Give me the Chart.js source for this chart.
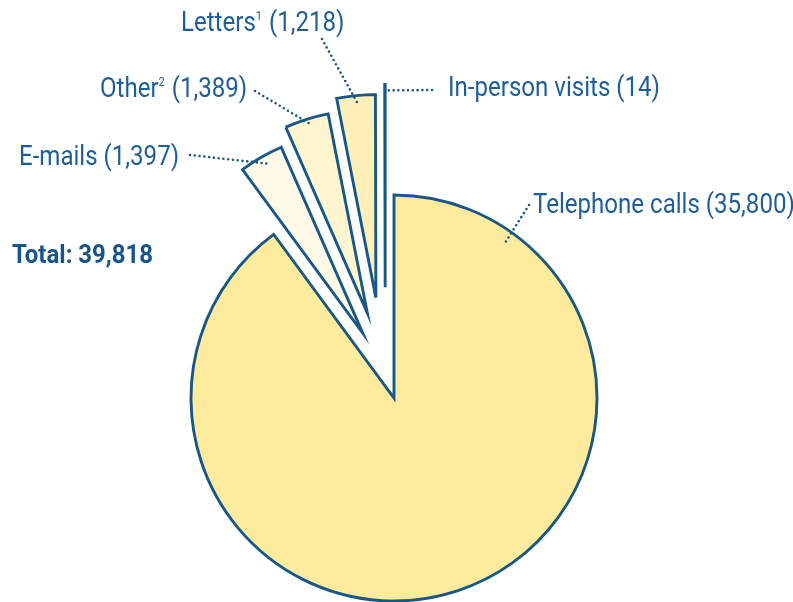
<!DOCTYPE html>
<html>
<head>
<meta charset="utf-8">
<script src="https://cdn.jsdelivr.net/npm/chart.js@4.4.0/dist/chart.umd.min.js"></script>
<style>
  html, body { margin: 0; padding: 0; background: #fff; }
  #wrap { width: 793px; height: 602px; }
</style>
</head>
<body>
<div id="wrap"><canvas id="contactsChart" width="793" height="602"></canvas></div>
<script>
// --- Datos ---
const categories = ['Telephone calls', 'E-mails', 'Other', 'Letters', 'In-person visits'];
const footnotes = ['', '', '2', '1', ''];
const contacts = [35800, 1397, 1389, 1218, 14];

// --- Estilo ---
const sliceColors = ['#feeb9d', '#fffae7', '#fff5cf', '#fef0b8', '#feeb9d'];
const edgeColor = '#195886';
const textColor = '#1d5e98';
const explodeDist = [0, 72, 89, 102, 111];   // px, sacar la porción del centro
const explodeTilt = [0, 4.3, 0, -4.6, -4.5]; // grados, corrección de dirección

// posición del texto + inicio de la línea punteada; frac/r = punto dentro de la porción
const labelLayout = [
  { x: 533, y: 213, from: [529, 205], frac: 0.11, r: 0.94 },
  { x: 19,  y: 165, from: [190, 155], frac: 0.54, r: 0.96 },
  { x: 100, y: 97,  from: [255, 91],  frac: 0.56, r: 0.97 },
  { x: 181, y: 31,  from: [322, 39],  frac: 0.55, r: 0.95 },
  { x: 448, y: 96,  from: [432, 90],  frac: 0.5,  r: 0.97 }
];

const fmt = n => n.toLocaleString('en-US');
const FONT = '28px Roboto, "Liberation Sans", sans-serif';
const SUP_FONT = '13px Roboto, "Liberation Sans", sans-serif';
const BOLD_FONT = 'bold 25px Roboto, "Liberation Sans", sans-serif';

// dibuja partes de texto seguidas, comprimidas en horizontal (fuente condensada)
function drawRuns(ctx, runs, x, y, sx, color) {
  ctx.save();
  ctx.fillStyle = color;
  ctx.textBaseline = 'alphabetic';
  ctx.translate(x, y);
  ctx.scale(sx, 1);
  let cx = 0;
  runs.forEach(r => {
    ctx.font = r.font;
    ctx.fillText(r.text, cx, r.dy || 0);
    cx += ctx.measureText(r.text).width + (r.gap || 0);
  });
  ctx.restore();
}

// mueve cada porción hacia afuera (pie "explotado") sin cambiar su radio
const explodePlugin = {
  id: 'explode',
  afterDatasetUpdate(chart, args) {
    args.meta.data.forEach((arc, i) => {
      const d = explodeDist[i] || 0;
      if (!d) return;
      const mid = (arc.startAngle + arc.endAngle) / 2 + (explodeTilt[i] || 0) * Math.PI / 180;
      arc.x += Math.cos(mid) * d;
      arc.y += Math.sin(mid) * d;
    });
  }
};

const labelPlugin = {
  id: 'sliceLabels',
  afterDraw(chart) {
    const ctx = chart.ctx;
    const meta = chart.getDatasetMeta(0);

    ctx.save();
    ctx.font = FONT;
    const sx = 212 / ctx.measureText('In-person visits (14)').width;
    ctx.restore();

    meta.data.forEach((arc, i) => {
      const lay = labelLayout[i];
      const a = arc.startAngle + (arc.endAngle - arc.startAngle) * lay.frac;
      const ax = arc.x + Math.cos(a) * arc.outerRadius * lay.r;
      const ay = arc.y + Math.sin(a) * arc.outerRadius * lay.r;

      ctx.save();
      ctx.strokeStyle = edgeColor;
      ctx.lineWidth = 2.6;
      ctx.lineCap = 'round';
      ctx.setLineDash([0, 4.8]);
      ctx.beginPath();
      ctx.moveTo(lay.from[0], lay.from[1]);
      ctx.lineTo(ax, ay);
      ctx.stroke();
      ctx.restore();

      const runs = [{ text: categories[i], font: FONT }];
      if (footnotes[i]) runs.push({ text: footnotes[i], font: SUP_FONT, dy: -11, gap: 1 });
      runs.push({ text: ' (' + fmt(contacts[i]) + ')', font: FONT });
      drawRuns(ctx, runs, lay.x, lay.y, sx, textColor);
    });

    const total = contacts.reduce((s, v) => s + v, 0);
    const totalTxt = 'Total: ' + fmt(total);
    ctx.save();
    ctx.font = BOLD_FONT;
    const bx = 141 / ctx.measureText(totalTxt).width;
    ctx.restore();
    drawRuns(ctx, [{ text: totalTxt, font: BOLD_FONT }], 12, 263, bx, '#17548c');
  }
};

new Chart(document.getElementById('contactsChart').getContext('2d'), {
  type: 'pie',
  data: {
    labels: categories,
    datasets: [{
      data: contacts,
      backgroundColor: sliceColors,
      borderColor: edgeColor,
      borderWidth: 2.9,
      borderJoinStyle: 'miter',
      clip: false
    }]
  },
  options: {
    responsive: false,
    animation: false,
    events: [],
    radius: 203,
    layout: { padding: { left: 0, right: 5, top: 194, bottom: 0 } },
    plugins: { legend: { display: false }, tooltip: { enabled: false } }
  },
  plugins: [explodePlugin, labelPlugin]
});
</script>
</body>
</html>
